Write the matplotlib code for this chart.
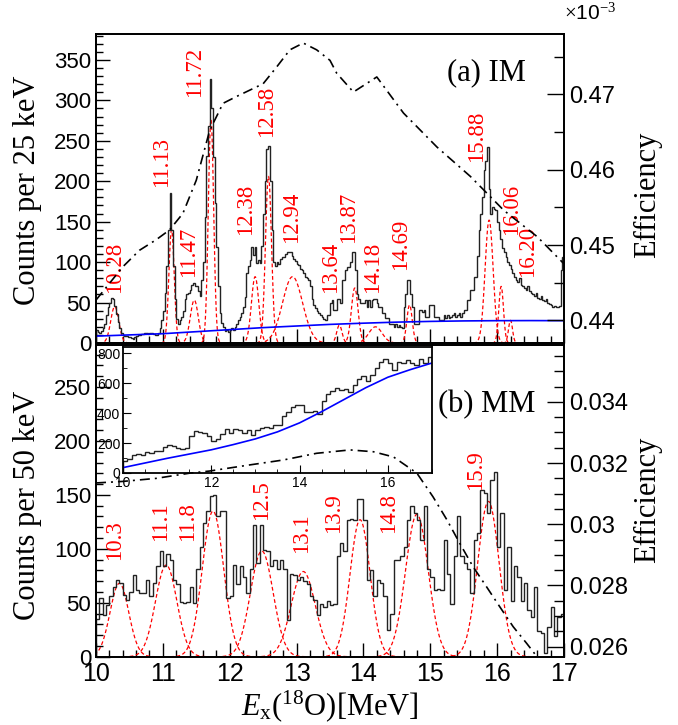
import matplotlib.pyplot as plt
from matplotlib.ticker import MultipleLocator, FuncFormatter
import numpy as np

plt.rcParams['font.family'] = ['Liberation Sans', 'DejaVu Sans']
plt.rcParams['mathtext.fontset'] = 'custom'
plt.rcParams['mathtext.rm'] = 'Liberation Serif'
plt.rcParams['mathtext.it'] = 'Liberation Serif:italic'

# ---- (a) IM spectrum, 25 keV bins from 10 to 17 MeV
im_counts = [
    16, 14, 12, 15,   18, 24, 34, 44,   50, 56, 54, 46,   36, 26, 18, 12,
    10, 9, 9, 8,      7, 6, 5, 7,       9, 10, 10, 11,    11, 12, 12, 11,
    12, 12, 11, 10,   10, 12, 18, 28,   40, 62, 95, 140,  186, 140, 95, 55,
    30, 24, 28, 32,   40, 55, 60, 62,   66, 72, 74, 70,   70, 64, 58, 78,
    100, 156, 231, 268, 326, 290, 230, 173, 119, 70, 37, 25, 20, 15, 16, 14,
    16, 18, 16, 20,   24, 28, 32, 37,   45, 57, 86, 95,   103, 119, 109, 119,
    99, 103, 99, 120, 160, 200, 240, 243, 200, 140, 100, 95, 100, 98, 104, 106,
    106, 110, 112, 113, 113, 107, 104, 101, 98, 96, 92, 90, 86, 82, 80, 78,
    70, 55, 47, 43,   40, 37, 34, 32,   30, 29, 35, 35,   49, 53, 41, 41,
    55, 55, 49, 78,   78, 90, 94, 94,   100, 113, 113, 90, 61, 55, 49, 49,
    49, 53, 45, 53,   45, 53, 55, 55,   49, 45, 45, 37,   37, 31, 31, 24,
    24, 24, 20, 24,   20, 22, 20, 18,   45, 61, 78, 78,   60, 45, 24, 24,
    24, 41, 41, 38,   41, 32, 32, 47,   47, 47, 32, 32,   32, 28, 28, 28,
    35, 31, 35, 31,   32, 34, 37, 32,   35, 37, 32, 37,   41, 41, 53, 53,
    66, 66, 82, 82,   107, 140, 160, 181, 214, 225, 242, 190, 160, 168, 166, 164,
    150, 140, 128, 118, 112, 106, 100, 96, 92, 86, 82, 78, 76, 80, 72, 70,
    68, 66, 70, 64,   62, 60, 58, 62,   56, 54, 58, 53,   52, 55, 50, 48,
    47, 45, 46, 45,   44, 46, 90, 106,
]

# fitted peaks (a)
im_peak_pos = [10.28, 11.13, 11.47, 11.72, 12.38, 12.58, 12.94, 13.64, 13.87, 14.18, 14.69, 15.88, 16.06, 16.20]
im_peak_amp = [45, 140, 53, 276, 82, 206, 82, 22, 68, 20, 47, 152, 70, 28]
im_peak_sig = [0.06, 0.04, 0.06, 0.04, 0.055, 0.045, 0.15, 0.04, 0.05, 0.10, 0.04, 0.06, 0.035, 0.03]
im_label_x = [10.27, 10.98, 11.38, 11.47, 12.24, 12.55, 12.92, 13.51, 13.77, 14.14, 14.56, 15.69, 16.22, 16.46]
im_label_y = [62, 193, 82, 304, 134, 255, 124, 62, 124, 62, 90, 224, 134, 82]

# background (a)
im_bg_x = [10.0, 10.5, 11.0, 11.5, 12.0, 12.5, 13.0, 13.5, 14.0, 14.5, 15.0, 15.5, 16.0, 16.5, 17.0]
im_bg_y = [8.5, 10, 11.5, 14, 16.5, 19, 21, 23, 24.5, 25.8, 26.7, 27.3, 27.6, 27.7, 27.6]

# efficiency (a), x10^-3
im_eff_x = [10.0, 10.2, 10.4, 10.65, 10.9, 11.1, 11.3, 11.5, 11.7, 11.9, 12.1, 12.5, 12.7, 12.9,
            13.1, 13.3, 13.5, 13.6, 13.85, 14.2, 14.6, 15.1, 15.6, 16.1, 16.6, 17.0]
im_eff_y = [0.4427, 0.4449, 0.4471, 0.4493, 0.4507, 0.4520, 0.4542, 0.4586, 0.4652, 0.4688, 0.4697,
            0.4714, 0.4736, 0.4759, 0.4768, 0.4759, 0.4745, 0.4728, 0.4703, 0.4723, 0.4675, 0.4630,
            0.4591, 0.4546, 0.4511, 0.4475]

# ---- (b) MM spectrum, 50 keV bins
mm_counts = [
    35, 54, 39, 48, 56, 65, 71, 68, 57, 53,
    60, 76, 62, 59, 59, 71, 56, 68, 84, 98,
    84, 95, 90, 71, 67, 51, 50, 51, 65, 50,
    81, 102, 124, 135, 149, 150, 130, 135, 135, 54,
    56, 85, 67, 84, 74, 59, 81, 122, 87, 122,
    99, 98, 84, 90, 81, 90, 81, 34, 77, 76,
    71, 74, 70, 67, 56, 53, 39, 49, 46, 52,
    48, 49, 93, 105, 98, 127, 128, 127, 146, 146,
    127, 71, 80, 56, 71, 68, 56, 25, 40, 90,
    90, 93, 102, 127, 140, 133, 127, 108, 140, 81,
    74, 62, 63, 62, 108, 77, 49, 93, 130, 93,
    87, 81, 59, 108, 115, 155, 152, 133, 164, 171,
    102, 133, 62, 102, 52, 84, 74, 52, 68, 43,
    37, 65, 24, 22, 3, 28, 46, 19, 37, 40,
]

mm_peak_pos = [10.35, 11.05, 11.75, 12.48, 13.10, 13.95, 14.80, 15.87]
mm_peak_amp = [68, 85, 135, 98, 79, 127, 132, 144]
mm_peak_sig = [0.14, 0.16, 0.16, 0.17, 0.18, 0.15, 0.17, 0.16]
mm_labels = ['10.3', '11.1', '11.8', '12.5', '13.1', '13.9', '14.8', '15.9']
mm_label_x = [10.27, 10.97, 11.37, 12.47, 13.07, 13.56, 14.37, 15.68]
mm_label_y = [90, 107, 107, 127, 96, 115, 115, 155]

mm_eff_x = [10.0, 10.4, 10.9, 11.4, 11.7, 12.3, 12.8, 13.3, 13.8, 14.15, 14.45, 14.8,
            15.04, 15.25, 15.44, 15.64, 15.84, 16.04, 16.24, 16.44, 16.54, 16.65]
mm_eff_y = [0.03135, 0.0314, 0.0315, 0.03167, 0.03174, 0.03194, 0.0321, 0.03232, 0.03243,
            0.03237, 0.0322, 0.03167, 0.0309, 0.03014, 0.02938, 0.02861, 0.02796, 0.0273,
            0.02665, 0.02611, 0.02583, 0.0255]

# inset: raw MM spectrum, 100 keV bins, with background
inset_counts = [
    80, 95, 120, 128, 120, 140, 132, 150, 145, 175,
    190, 178, 165, 158, 170, 250, 280, 276, 265, 245,
    212, 225, 260, 295, 270, 295, 285, 270, 287, 255,
    285, 300, 308, 300, 318, 322, 380, 405, 440, 455,
    455, 410, 405, 415, 395, 480, 525, 545, 565, 555,
    562, 544, 590, 630, 650, 612, 655, 700, 745, 762,
    738, 690, 742, 733, 752, 735, 722, 760, 735, 775,
]
inset_bg_x = [10.0, 11.0, 12.0, 12.5, 13.0, 13.5, 14.0, 14.5, 15.0, 15.5, 16.0, 16.5, 17.0]
inset_bg_y = [36, 98, 155, 190, 228, 275, 335, 410, 490, 570, 640, 690, 735]

# ---------------------------------------------------------------
W, H = 678, 725
fig = plt.figure(figsize=(W / 100, H / 100), dpi=100)


def frac(x0, y0, x1, y1):
    return [x0 / W, 1 - y1 / H, (x1 - x0) / W, (y1 - y0) / H]


serif = ['Liberation Serif', 'DejaVu Serif']
dashdot = (0, (6, 3, 1.2, 3))
reddash = (0, (3, 2))


def gauss_lines(ax, pos, amp, sig):
    for p, a, s in zip(pos, amp, sig):
        xx = np.linspace(p - 4 * s, p + 4 * s, 120)
        ax.plot(xx, a * np.exp(-0.5 * ((xx - p) / s) ** 2), color='red', lw=0.9, ls=reddash, zorder=2)


def style_axis(ax, size=16):
    ax.tick_params(which='both', direction='in', labelsize=size, width=1.0)
    ax.tick_params(which='major', length=10)
    ax.tick_params(which='minor', length=5)
    for sp in ax.spines.values():
        sp.set_linewidth(1.3)


# ---- panel (a)
ax_a = fig.add_axes(frac(96, 34, 564, 343))
edges_a = np.linspace(10, 17, len(im_counts) + 1)
ax_a.stairs(im_counts, edges_a, color='#222222', lw=1.0, zorder=3)
gauss_lines(ax_a, im_peak_pos, im_peak_amp, im_peak_sig)
ax_a.plot(im_bg_x, im_bg_y, color='blue', lw=1.2, zorder=4)
for lx, ly, lab in zip(im_label_x, im_label_y, im_peak_pos):
    ax_a.text(lx, ly, '%.2f' % lab, rotation=90, color='red', ha='center', va='bottom',
              fontsize=16.5, family=serif)
ax_a.set_xlim(10, 17)
ax_a.set_ylim(0, 382)
ax_a.xaxis.set_major_locator(MultipleLocator(1))
ax_a.xaxis.set_minor_locator(MultipleLocator(0.2))
ax_a.yaxis.set_major_locator(MultipleLocator(50))
ax_a.yaxis.set_minor_locator(MultipleLocator(10))
style_axis(ax_a)
ax_a.tick_params(labelbottom=False)
ax_a.text(0.835, 0.875, '(a) IM', transform=ax_a.transAxes, fontsize=22, family=serif,
          ha='center', va='center')

ax_a2 = ax_a.twinx()
ax_a2.plot(im_eff_x, im_eff_y, color='black', lw=1.2, ls=dashdot)
ax_a2.set_ylim(0.4370, 0.4780)
ax_a2.yaxis.set_major_locator(MultipleLocator(0.01))
ax_a2.yaxis.set_minor_locator(MultipleLocator(0.005))
ax_a2.yaxis.set_major_formatter(FuncFormatter(lambda v, p: '%g' % round(v, 4)))
style_axis(ax_a2, 17)
ax_a2.tick_params(which='major', length=12)
ax_a2.tick_params(which='minor', length=7)
fig.text(564 / W, 1 - 13 / H, r'$\times$10$^{-3}$', fontsize=15, ha='left', va='center')

# ---- panel (b)
ax_b = fig.add_axes(frac(96, 345, 564, 656.7))
edges_b = np.linspace(10, 17, len(mm_counts) + 1)
ax_b.stairs(mm_counts, edges_b, color='#222222', lw=1.0, zorder=3)
gauss_lines(ax_b, mm_peak_pos, mm_peak_amp, mm_peak_sig)
for lx, ly, lab in zip(mm_label_x, mm_label_y, mm_labels):
    ax_b.text(lx, ly, lab, rotation=90, color='red', ha='center', va='bottom',
              fontsize=16.5, family=serif)
ax_b.set_xlim(10, 17)
ax_b.set_ylim(0, 289)
ax_b.xaxis.set_major_locator(MultipleLocator(1))
ax_b.xaxis.set_minor_locator(MultipleLocator(0.2))
ax_b.yaxis.set_major_locator(MultipleLocator(50))
ax_b.yaxis.set_minor_locator(MultipleLocator(10))
style_axis(ax_b)
ax_b.tick_params(axis='x', labelsize=18)
ax_b.text(0.835, 0.81, '(b) MM', transform=ax_b.transAxes, fontsize=22, family=serif,
          ha='center', va='center')

# inset sits between panel (b) and its efficiency curve
inset = fig.add_axes(frac(123, 347, 432, 473))
edges_i = np.linspace(10, 17, len(inset_counts) + 1)
inset.stairs(inset_counts, edges_i, color='#222222', lw=1.0)
inset.plot(inset_bg_x, inset_bg_y, color='blue', lw=1.2)
inset.set_xlim(10, 17)
inset.set_ylim(0, 842)
inset.xaxis.set_major_locator(MultipleLocator(2))
inset.xaxis.set_minor_locator(MultipleLocator(0.5))
inset.yaxis.set_major_locator(MultipleLocator(200))
inset.yaxis.set_minor_locator(MultipleLocator(100))
inset.tick_params(which='both', direction='in', labelsize=10, pad=2)
inset.tick_params(which='major', length=6)
inset.tick_params(which='minor', length=3)
for sp in inset.spines.values():
    sp.set_linewidth(1.3)

ax_b2 = ax_b.twinx()
ax_b2.plot(mm_eff_x, mm_eff_y, color='black', lw=1.2, ls=dashdot)
ax_b2.set_ylim(0.02567, 0.03586)
ax_b2.yaxis.set_major_locator(MultipleLocator(0.002))
ax_b2.yaxis.set_minor_locator(MultipleLocator(0.0005))
ax_b2.yaxis.set_major_formatter(FuncFormatter(lambda v, p: '%g' % round(v, 4)))
style_axis(ax_b2, 17)
ax_b2.tick_params(which='major', length=12)
ax_b2.tick_params(which='minor', length=7)

ax_b.set_zorder(0)
inset.set_zorder(1)
ax_b2.set_zorder(2)

# axis titles
fig.text(28 / W, 1 - 190 / H, 'Counts per 25 keV', rotation=90, fontsize=22, family=serif,
         ha='center', va='center')
fig.text(28 / W, 1 - 505 / H, 'Counts per 50 keV', rotation=90, fontsize=22, family=serif,
         ha='center', va='center')
fig.text(648 / W, 1 - 195 / H, 'Efficiency', rotation=90, fontsize=22, family=serif,
         ha='center', va='center')
fig.text(648 / W, 1 - 500 / H, 'Efficiency', rotation=90, fontsize=22, family=serif,
         ha='center', va='center')
fig.text(330 / W, 1 - 706 / H, r'$E_{\mathrm{x}}(^{18}\mathrm{O})[\mathrm{MeV}]$', fontsize=22,
         ha='center', va='center')

fig.savefig('out.png', dpi=100)
